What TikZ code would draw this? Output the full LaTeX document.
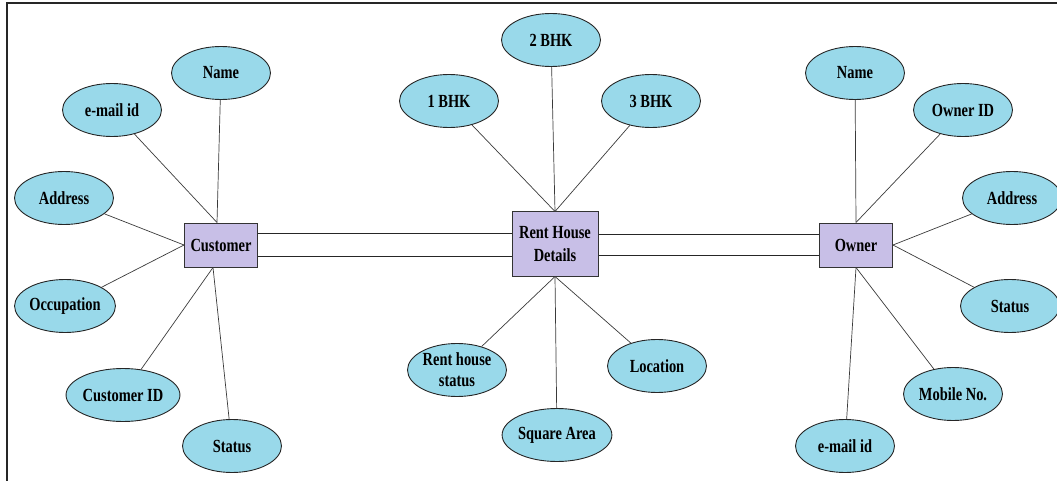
\documentclass[tikz,border=0pt]{standalone}
\usepackage{fontspec}
\setmainfont{Liberation Serif}[FakeStretch=0.78]
\usetikzlibrary{shapes.geometric}
\definecolor{attrfill}{HTML}{99D9EA}
\definecolor{entfill}{HTML}{C8BFE7}
\definecolor{edgecol}{HTML}{3A3A3A}
\begin{document}
\begin{tikzpicture}[x=1pt,y=-1pt,
  attr/.style={ellipse,draw=black!85,line width=0.9pt,fill=attrfill,
    minimum width=99pt,minimum height=53pt,inner sep=0pt,
    font=\bfseries\fontsize{18.5}{19}\selectfont,text=black,align=center},
  entity/.style={rectangle,draw=black!80,line width=1pt,fill=entfill,
    minimum width=73pt,minimum height=44pt,inner sep=0pt,
    font=\bfseries\fontsize{18.5}{23}\selectfont,text=black,align=center},
  link/.style={draw=edgecol,line width=0.7pt},
  rel/.style={draw=black!85,line width=1pt}]
\useasboundingbox (0,0) rectangle (1057,481);
\clip (0,0) rectangle (1057,481);
% page frame
\draw[line width=1.4pt,black!85] (7,481) -- (7,3) -- (1060,3);

% entities
\node[entity] (cust) at (221,245) {Customer};
\node[entity,minimum width=86pt,minimum height=64pt] (rent) at (555,244) {Rent House\\Details};
\node[entity] (own) at (856,245) {Owner};

% customer attributes
\node[attr] (cname) at (221,73) {Name};
\node[attr] (cmail) at (112,110) {e-mail id};
\node[attr] (caddr) at (64,198) {Address};
\node[attr] (cocc) at (65,306) {Occupation};
\node[attr] (cid) at (123,395) {Customer ID};
\node[attr] (cstat) at (232,446) {Status};

% rent house attributes
\node[attr] (b2) at (551,40) {2 BHK};
\node[attr] (b1) at (449,101) {1 BHK};
\node[attr] (b3) at (651,101) {3 BHK};
\node[attr,font=\bfseries\fontsize{18.5}{21}\selectfont] (rstat) at (457,370) {Rent house\\status};
\node[attr] (loc) at (657,366) {Location};
\node[attr] (area) at (557,435) {Square Area};

% owner attributes
\node[attr] (oname) at (855,73) {Name};
\node[attr] (oid) at (963,110) {Owner ID};
\node[attr] (oaddr) at (1012,198) {Address};
\node[attr] (ostat) at (1010,306) {Status};
\node[attr] (omob) at (953,394) {Mobile No.};
\node[attr] (omail) at (845,446) {e-mail id};

% attribute links
\coordinate (cT) at ([xshift=-4pt]cust.north);
\coordinate (cB) at ([xshift=-8pt]cust.south);
\draw[link] (cname) -- (cT);
\draw[link] (cmail) -- (cT);
\draw[link] (caddr) -- (cust.west);
\draw[link] (cocc) -- (cust.west);
\draw[link] (cid) -- (cB);
\draw[link] (cstat) -- (cB);

\draw[link] (b1) -- (rent.north);
\draw[link] (b2) -- (rent.north);
\draw[link] (b3) -- (rent.north);
\draw[link] (rstat) -- (rent.south);
\draw[link] (area) -- (rent.south);
\draw[link] (loc) -- (rent.south);

\draw[link] (oname) -- (own.north);
\draw[link] (oid) -- (own.north);
\draw[link] (oaddr) -- (own.east);
\draw[link] (ostat) -- (own.east);
\draw[link] (omob) -- (own.south);
\draw[link] (omail) -- (own.south);

% double relationship lines
\draw[rel] ([yshift=12pt]cust.east) -- ([yshift=11pt]rent.west);
\draw[rel] ([yshift=-11pt]cust.east) -- ([yshift=-12pt]rent.west);
\draw[rel] ([yshift=10pt]rent.east) -- ([yshift=11pt]own.west);
\draw[rel] ([yshift=-11pt]rent.east) -- ([yshift=-10pt]own.west);
\end{tikzpicture}
\end{document}
